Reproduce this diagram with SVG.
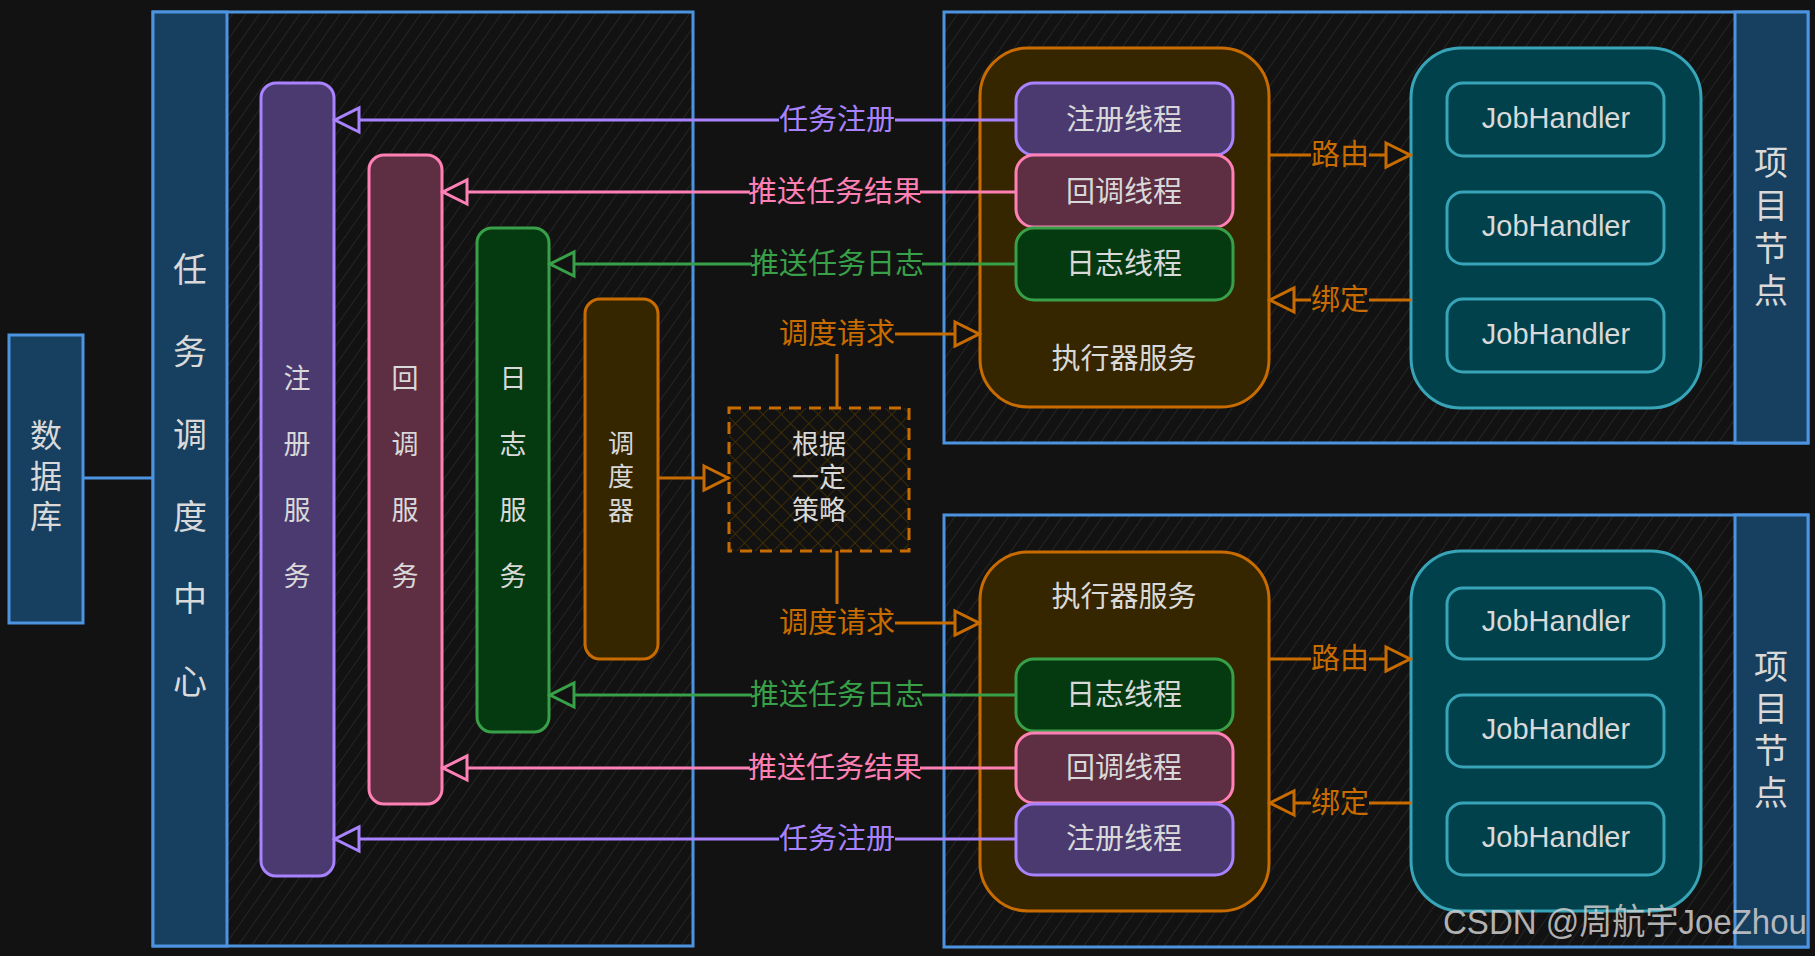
<svg xmlns="http://www.w3.org/2000/svg" width="1815" height="956" viewBox="0 0 1815 956">
<style>
.t{font-family:"Noto Sans CJK SC","Noto Sans",sans-serif;fill:#d9d9d9;text-anchor:middle;dominant-baseline:central}
.lt{font-family:"Liberation Sans","Noto Sans CJK SC",sans-serif;fill:#d9d9d9;text-anchor:middle;dominant-baseline:central;font-size:29px}
.el{font-family:"Noto Sans CJK SC","Noto Sans",sans-serif;text-anchor:middle;dominant-baseline:central;font-size:29px}
.cont{fill:url(#hatch);stroke:#4d94e0;stroke-width:3}
.head{fill:#173f5f;stroke:#4d94e0;stroke-width:3}
.e{fill:none;stroke-width:3}
.pu{stroke:#a882ff}.pk{stroke:#ff80b5}.gr{stroke:#38a048}.or{stroke:#c96c00}
.fpu{fill:#a882ff}.fpk{fill:#ff80b5}.fgr{fill:#38a048}.for{fill:#c96c00}
</style>
<defs>
<pattern id="hatch" patternUnits="userSpaceOnUse" width="11" height="11" patternTransform="rotate(35)">
<rect width="11" height="11" fill="#121212"/>
<line x1="0" y1="0" x2="0" y2="11" stroke="#2b2b2b" stroke-width="1.5"/>
</pattern>
<pattern id="cross" patternUnits="userSpaceOnUse" width="13" height="13" patternTransform="rotate(45)">
<rect width="13" height="13" fill="#121212"/>
<line x1="0" y1="0" x2="0" y2="13" stroke="#4a3300" stroke-width="1.5"/>
<line x1="0" y1="0" x2="13" y2="0" stroke="#4a3300" stroke-width="1.5"/>
</pattern>
<marker id="aPu" viewBox="0 0 30 30" refX="28" refY="15" markerWidth="30" markerHeight="30" markerUnits="userSpaceOnUse" orient="auto"><path d="M3,3 L27,15 L3,27 Z" fill="#121212" stroke="#a882ff" stroke-width="3"/></marker>
<marker id="aPk" viewBox="0 0 30 30" refX="28" refY="15" markerWidth="30" markerHeight="30" markerUnits="userSpaceOnUse" orient="auto"><path d="M3,3 L27,15 L3,27 Z" fill="#121212" stroke="#ff80b5" stroke-width="3"/></marker>
<marker id="aGr" viewBox="0 0 30 30" refX="28" refY="15" markerWidth="30" markerHeight="30" markerUnits="userSpaceOnUse" orient="auto"><path d="M3,3 L27,15 L3,27 Z" fill="#121212" stroke="#38a048" stroke-width="3"/></marker>
<marker id="aOr" viewBox="0 0 30 30" refX="28" refY="15" markerWidth="30" markerHeight="30" markerUnits="userSpaceOnUse" orient="auto"><path d="M3,3 L27,15 L3,27 Z" fill="#121212" stroke="#c96c00" stroke-width="3"/></marker>
</defs>
<rect width="1815" height="956" fill="#121212"/>

<g id="db">
<rect x="9" y="335" width="74" height="288" class="head"/>
<text class="t" font-size="32"><tspan x="46" y="433">数</tspan><tspan x="46" y="474">据</tspan><tspan x="46" y="514">库</tspan></text>
</g>

<g id="scheduler-center">
<rect x="153" y="12" width="540" height="934" class="cont"/>
<rect x="153" y="12" width="74" height="934" class="head"/>
<text class="t" font-size="34"><tspan x="190" y="267">任</tspan><tspan x="190" y="349">务</tspan><tspan x="190" y="432">调</tspan><tspan x="190" y="514">度</tspan><tspan x="190" y="596">中</tspan><tspan x="190" y="679">心</tspan></text>
</g>

<g id="reg-service">
<rect x="261" y="83" width="73" height="793" rx="15" fill="#4a3a6f" stroke="#a882ff" stroke-width="3"/>
<text class="t" font-size="27"><tspan x="297" y="376">注</tspan><tspan x="297" y="442">册</tspan><tspan x="297" y="508">服</tspan><tspan x="297" y="574">务</tspan></text>
</g>
<g id="callback-service">
<rect x="369" y="155" width="73" height="649" rx="15" fill="#5e2e42" stroke="#ff80b5" stroke-width="3"/>
<text class="t" font-size="27"><tspan x="405" y="376">回</tspan><tspan x="405" y="442">调</tspan><tspan x="405" y="508">服</tspan><tspan x="405" y="574">务</tspan></text>
</g>
<g id="log-service">
<rect x="477" y="228" width="72" height="504" rx="15" fill="#053a11" stroke="#38a048" stroke-width="3"/>
<text class="t" font-size="27"><tspan x="513" y="376">日</tspan><tspan x="513" y="442">志</tspan><tspan x="513" y="508">服</tspan><tspan x="513" y="574">务</tspan></text>
</g>
<g id="dispatcher">
<rect x="585" y="299" width="73" height="360" rx="15" fill="#352600" stroke="#c96c00" stroke-width="3"/>
<text class="t" font-size="26"><tspan x="621" y="441">调</tspan><tspan x="621" y="474">度</tspan><tspan x="621" y="508">器</tspan></text>
</g>

<g id="strategy">
<rect x="729" y="408" width="180" height="143" fill="url(#cross)" stroke="#c96c00" stroke-width="3" stroke-dasharray="12 8"/>
<text class="t" font-size="27"><tspan x="819" y="442">根据</tspan><tspan x="819" y="475">一定</tspan><tspan x="819" y="508">策略</tspan></text>
</g>

<g id="project-node-1">
<rect x="944" y="12" width="864" height="431" class="cont"/>
<rect x="1735" y="12" width="73" height="431" class="head"/>
<text class="t" font-size="34"><tspan x="1771" y="160">项</tspan><tspan x="1771" y="203">目</tspan><tspan x="1771" y="246">节</tspan><tspan x="1771" y="288">点</tspan></text>
</g>
<g id="project-node-2">
<rect x="944" y="515" width="864" height="432" class="cont"/>
<rect x="1735" y="515" width="73" height="432" class="head"/>
<text class="t" font-size="34"><tspan x="1771" y="664">项</tspan><tspan x="1771" y="706">目</tspan><tspan x="1771" y="748">节</tspan><tspan x="1771" y="790">点</tspan></text>
</g>

<g id="executor-1">
<rect x="980" y="48" width="289" height="359" rx="48" fill="#352600" stroke="#c96c00" stroke-width="3"/>
<text class="t" font-size="29" x="1124" y="356">执行器服务</text>
</g>
<g id="reg-thread-1"><rect x="1016" y="83" width="217" height="72" rx="18" fill="#4a3a6f" stroke="#a882ff" stroke-width="3"/><text class="t" font-size="29" x="1124" y="117">注册线程</text></g>
<g id="cb-thread-1"><rect x="1016" y="155" width="217" height="72" rx="18" fill="#5e2e42" stroke="#ff80b5" stroke-width="3"/><text class="t" font-size="29" x="1124" y="189">回调线程</text></g>
<g id="log-thread-1"><rect x="1016" y="228" width="217" height="72" rx="18" fill="#053a11" stroke="#38a048" stroke-width="3"/><text class="t" font-size="29" x="1124" y="261">日志线程</text></g>

<g id="executor-2">
<rect x="980" y="552" width="289" height="359" rx="48" fill="#352600" stroke="#c96c00" stroke-width="3"/>
<text class="t" font-size="29" x="1124" y="594">执行器服务</text>
</g>
<g id="log-thread-2"><rect x="1016" y="659" width="217" height="72" rx="18" fill="#053a11" stroke="#38a048" stroke-width="3"/><text class="t" font-size="29" x="1124" y="692">日志线程</text></g>
<g id="cb-thread-2"><rect x="1016" y="733" width="217" height="70" rx="18" fill="#5e2e42" stroke="#ff80b5" stroke-width="3"/><text class="t" font-size="29" x="1124" y="765">回调线程</text></g>
<g id="reg-thread-2"><rect x="1016" y="804" width="217" height="71" rx="18" fill="#4a3a6f" stroke="#a882ff" stroke-width="3"/><text class="t" font-size="29" x="1124" y="836">注册线程</text></g>

<g id="handlers-1">
<rect x="1411" y="48" width="290" height="360" rx="50" fill="#01414b" stroke="#38a4b8" stroke-width="3"/>
</g>
<g id="jh-1a"><rect x="1447" y="83" width="217" height="73" rx="16" fill="#01414b" stroke="#38a4b8" stroke-width="3"/><text class="lt" x="1556" y="118">JobHandler</text></g>
<g id="jh-1b"><rect x="1447" y="192" width="217" height="72" rx="16" fill="#01414b" stroke="#38a4b8" stroke-width="3"/><text class="lt" x="1556" y="226">JobHandler</text></g>
<g id="jh-1c"><rect x="1447" y="299" width="217" height="73" rx="16" fill="#01414b" stroke="#38a4b8" stroke-width="3"/><text class="lt" x="1556" y="334">JobHandler</text></g>

<g id="handlers-2">
<rect x="1411" y="551" width="290" height="360" rx="50" fill="#01414b" stroke="#38a4b8" stroke-width="3"/>
</g>
<g id="jh-2a"><rect x="1447" y="588" width="217" height="71" rx="16" fill="#01414b" stroke="#38a4b8" stroke-width="3"/><text class="lt" x="1556" y="621">JobHandler</text></g>
<g id="jh-2b"><rect x="1447" y="695" width="217" height="72" rx="16" fill="#01414b" stroke="#38a4b8" stroke-width="3"/><text class="lt" x="1556" y="729">JobHandler</text></g>
<g id="jh-2c"><rect x="1447" y="803" width="217" height="72" rx="16" fill="#01414b" stroke="#38a4b8" stroke-width="3"/><text class="lt" x="1556" y="837">JobHandler</text></g>

<g id="connectors">
<path d="M83,478 H153" fill="none" stroke="#4d94e0" stroke-width="3"/>
<path class="e pu" d="M1016,120 H895"/><path class="e pu" d="M779,120 H334" marker-end="url(#aPu)"/>
<text class="el fpu" x="837" y="117">任务注册</text>
<path class="e pk" d="M1016,192 H920"/><path class="e pk" d="M750,192 H442" marker-end="url(#aPk)"/>
<text class="el fpk" x="835" y="189">推送任务结果</text>
<path class="e gr" d="M1016,264 H922"/><path class="e gr" d="M752,264 H549" marker-end="url(#aGr)"/>
<text class="el fgr" x="837" y="261">推送任务日志</text>
<path class="e or" d="M837,408 V354"/><path class="e or" d="M895,334 H980" marker-end="url(#aOr)"/>
<text class="el for" x="837" y="331">调度请求</text>
<path class="e or" d="M658,478 H729" marker-end="url(#aOr)"/>
<path class="e or" d="M1269,155 H1311"/><path class="e or" d="M1369,155 H1411" marker-end="url(#aOr)"/>
<text class="el for" x="1340" y="152">路由</text>
<path class="e or" d="M1411,300 H1369"/><path class="e or" d="M1311,300 H1269" marker-end="url(#aOr)"/>
<text class="el for" x="1340" y="297">绑定</text>
<path class="e or" d="M837,551 V604"/><path class="e or" d="M895,623 H980" marker-end="url(#aOr)"/>
<text class="el for" x="837" y="620">调度请求</text>
<path class="e gr" d="M1016,695 H922"/><path class="e gr" d="M752,695 H549" marker-end="url(#aGr)"/>
<text class="el fgr" x="837" y="692">推送任务日志</text>
<path class="e pk" d="M1016,768 H920"/><path class="e pk" d="M750,768 H442" marker-end="url(#aPk)"/>
<text class="el fpk" x="835" y="765">推送任务结果</text>
<path class="e pu" d="M1016,839 H895"/><path class="e pu" d="M779,839 H334" marker-end="url(#aPu)"/>
<text class="el fpu" x="837" y="836">任务注册</text>
<path class="e or" d="M1269,659 H1311"/><path class="e or" d="M1369,659 H1411" marker-end="url(#aOr)"/>
<text class="el for" x="1340" y="656">路由</text>
<path class="e or" d="M1411,803 H1369"/><path class="e or" d="M1311,803 H1269" marker-end="url(#aOr)"/>
<text class="el for" x="1340" y="800">绑定</text>
</g>

<text x="1443" y="934" font-family="Liberation Sans,Noto Sans CJK SC,sans-serif" font-size="35" fill="#cfcfcf" fill-opacity="0.85" textLength="364" lengthAdjust="spacingAndGlyphs">CSDN @周航宇JoeZhou</text>
</svg>
